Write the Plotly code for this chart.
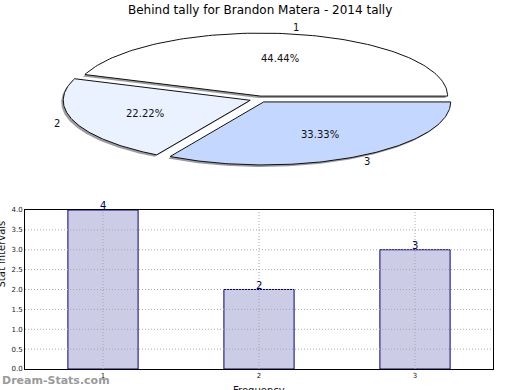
import numpy as np
import plotly.graph_objects as go

title = "Behind tally for Brandon Matera - 2014 tally"
pie_labels = ["1", "2", "3"]
pie_values = [4, 2, 3]
pie_colors = ["#ffffff", "#eaf1ff", "#c4d8ff"]

bar_cats = [1, 2, 3]
bar_values = [4, 2, 3]
y_ticks = [0, 0.5, 1, 1.5, 2, 2.5, 3, 3.5, 4]

W, H = 520, 390
fig = go.Figure()

rx, ry = 187.0, 63.0
explode = 0.05
fracs = np.array(pie_values, dtype=float) / np.sum(pie_values)
starts = np.concatenate([[0.0], np.cumsum(fracs)[:-1]]) * 2 * np.pi
ends = np.cumsum(fracs) * 2 * np.pi

annotations = []
def wedge(a0, a1):
    mid = (a0 + a1) / 2
    dx = explode * rx * np.cos(mid)
    dy = explode * ry * np.sin(mid)
    th = np.linspace(a0, a1, 120)
    xs = np.concatenate([[0], rx * np.cos(th), [0]]) + dx
    ys = np.concatenate([[0], ry * np.sin(th), [0]]) + dy
    return mid, dx, dy, xs, ys

for a0, a1 in zip(starts, ends):
    mid, dx, dy, xs, ys = wedge(a0, a1)
    fig.add_trace(go.Scatter(x=xs - 2, y=ys - 2, mode="lines", fill="toself",
                             fillcolor="rgba(90,90,90,0.6)", line=dict(width=0),
                             hoverinfo="skip", showlegend=False, xaxis="x", yaxis="y"))
for i, (a0, a1) in enumerate(zip(starts, ends)):
    mid, dx, dy, xs, ys = wedge(a0, a1)
    fig.add_trace(go.Scatter(x=xs, y=ys, mode="lines", fill="toself",
                             fillcolor=pie_colors[i], line=dict(color="#111111", width=1),
                             hoverinfo="skip", showlegend=False, xaxis="x", yaxis="y"))
    annotations.append(dict(x=dx + 1.1 * rx * np.cos(mid), y=dy + 1.1 * ry * np.sin(mid),
                            xref="x", yref="y", text=pie_labels[i], showarrow=False,
                            font=dict(size=10, color="#111111")))
    annotations.append(dict(x=dx + 0.6 * rx * np.cos(mid), y=dy + 0.6 * ry * np.sin(mid),
                            xref="x", yref="y", text="%.2f%%" % (fracs[i] * 100), showarrow=False,
                            font=dict(size=10, color="#111111")))

fig.add_trace(go.Bar(x=bar_cats, y=bar_values, width=0.45, marker=dict(color="#ccccE6",
                     line=dict(color="#000080", width=1)), xaxis="x2", yaxis="y2",
                     showlegend=False, hoverinfo="skip"))
for c, v in zip(bar_cats, bar_values):
    annotations.append(dict(x=c, y=v, xref="x2", yref="y2", text=str(v), showarrow=False,
                            yanchor="bottom", yshift=-3, font=dict(size=10, color="#000060")))

# dotted grid drawn above the bars, as in the reference
grid = dict(color="#a8a8a8", width=1, dash="1px,2px")
shapes = []
for t in y_ticks[1:-1]:
    shapes.append(dict(type="line", xref="x2 domain", yref="y2", x0=0, x1=1, y0=t, y1=t,
                       line=grid, layer="above"))
for c in bar_cats:
    shapes.append(dict(type="line", xref="x2", yref="y2 domain", x0=c, x1=c, y0=0, y1=1,
                       line=grid, layer="above"))

annotations += [
    dict(x=0.5, y=1 - 10 / H, xref="paper", yref="paper", text=title, showarrow=False,
         font=dict(size=12, color="#000000"), yanchor="middle"),
    dict(x=1 / W, y=1 - 290 / H, xref="paper", yref="paper", text="Stat intervals",
         textangle=-90, showarrow=False, xanchor="center", font=dict(size=10, color="#111111")),
    dict(x=259 / W, y=1 - 383 / H, xref="paper", yref="paper", text="Frequency",
         showarrow=False, yanchor="top", font=dict(size=10, color="#111111")),
    dict(x=0, y=1 - 380 / H, xref="paper", yref="paper", text="<b>Dream-Stats.com</b>",
         showarrow=False, xanchor="left", yanchor="middle", font=dict(size=11, color="#9a9a9a")),
]

cx, cy = 259, 99.2
axis_common = dict(tickfont=dict(size=7, color="#222222"), showgrid=False, showline=True,
                   linecolor="black", linewidth=1, mirror=True, ticks="", zeroline=False,
                   automargin=False)
fig.update_layout(
    width=W, height=H, margin=dict(l=0, r=0, t=0, b=0, pad=0, autoexpand=False),
    paper_bgcolor="white", plot_bgcolor="white",
    font=dict(family="DejaVu Sans"),
    showlegend=False,
    xaxis=dict(domain=[0, 1], range=[-cx, W - cx], visible=False, automargin=False),
    yaxis=dict(domain=[1 - 180 / H, 1 - 20 / H], range=[-(180 - cy), cy - 20], visible=False,
               automargin=False),
    xaxis2=dict(domain=[25 / W, 493 / W], range=[0.5, 3.5], anchor="y2",
                tickvals=bar_cats, ticktext=[str(c) for c in bar_cats], **axis_common),
    yaxis2=dict(domain=[1 - 369 / H, 1 - 210 / H], range=[0, 4], anchor="x2",
                tickvals=y_ticks, ticktext=["%.1f" % t for t in y_ticks], **axis_common),
    annotations=annotations,
    shapes=shapes,
)

fig.write_html("out.html", post_script="document.body.style.margin='0';",
               config={"displayModeBar": False})
